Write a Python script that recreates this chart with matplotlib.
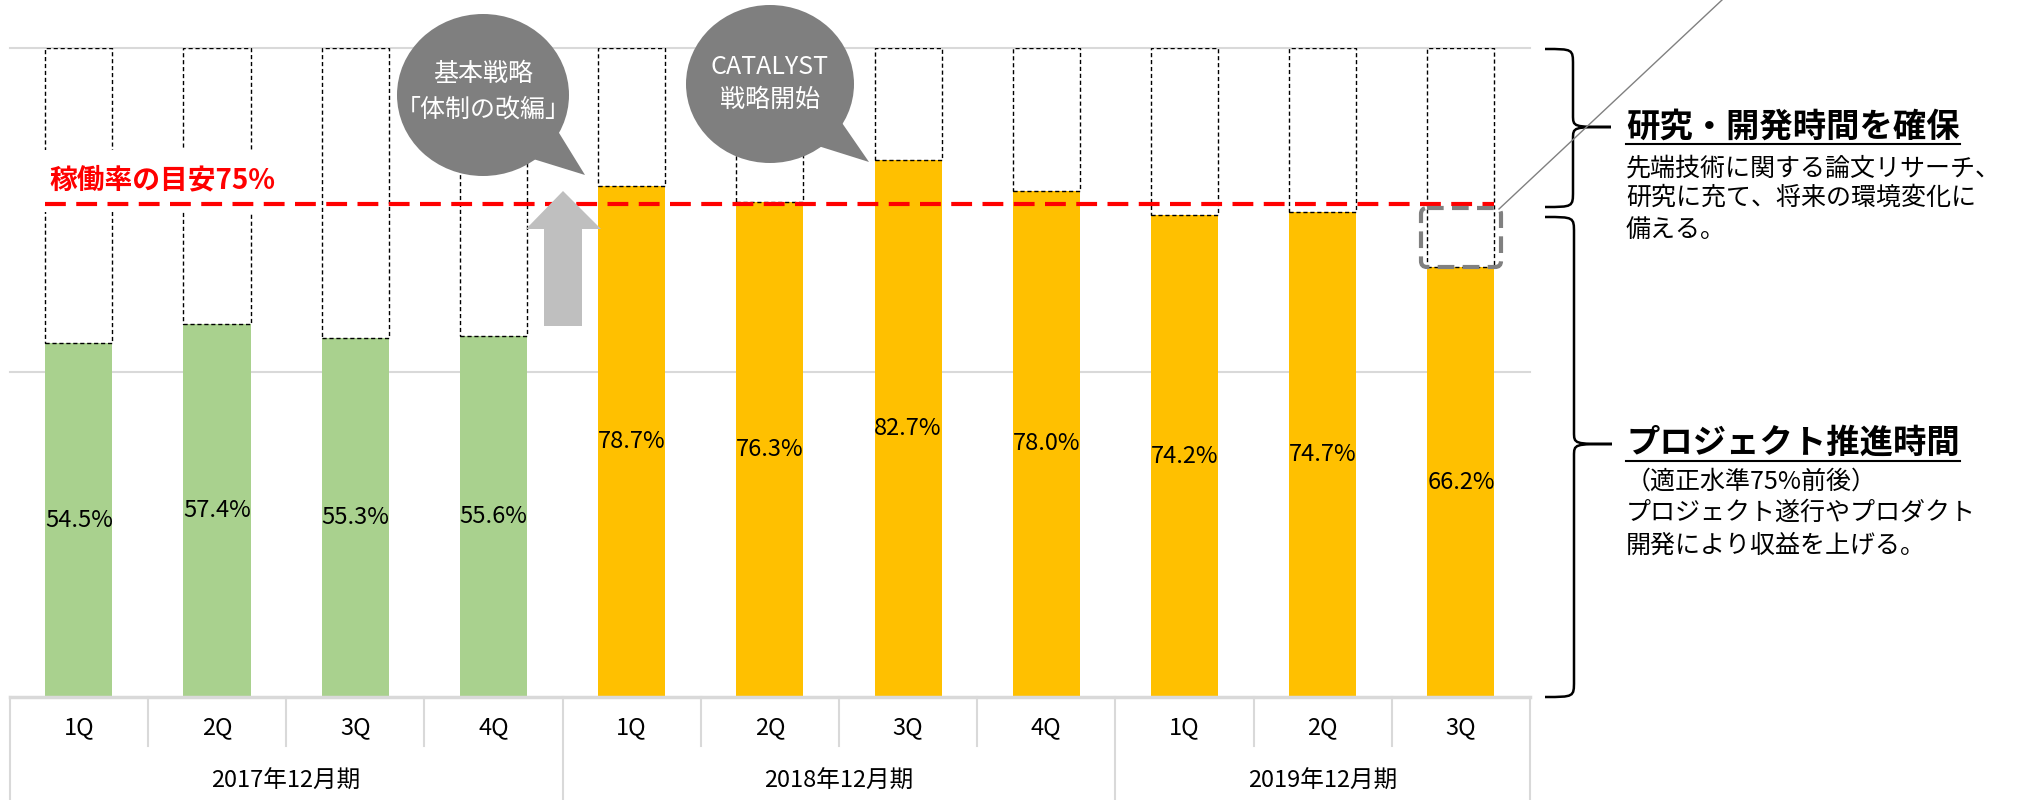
import numpy as np
import matplotlib
matplotlib.use('Agg')
import matplotlib.pyplot as plt
import matplotlib.transforms as mtransforms
from matplotlib.patches import Ellipse, Polygon, FancyBboxPatch, PathPatch
from matplotlib.path import Path

plt.rcParams['font.family'] = ['Noto Sans CJK JP', 'DejaVu Sans']

## data
Quarters = ['1Q', '2Q', '3Q', '4Q', '1Q', '2Q', '3Q', '4Q', '1Q', '2Q', '3Q']
Years = ['2017年12月期', '2018年12月期', '2019年12月期']
Year_sizes = [4, 4, 3]
Rates = [54.5, 57.4, 55.3, 55.6, 78.7, 76.3, 82.7, 78.0, 74.2, 74.7, 66.2]
Colors = ['#A9D18E'] * 4 + ['#FFC000'] * 7
target_line = 75.9  # the red line sits a hair above 75 in the original

W, H = 2024, 800
fig = plt.figure(figsize=(W / 100, H / 100), dpi=100)

ax_l, ax_r, ax_t, ax_b = 9.7, 1530, 47.8, 697
ax = fig.add_axes([ax_l / W, (H - ax_b) / H, (ax_r - ax_l) / W, (ax_b - ax_t) / H])

x = np.arange(len(Rates))
bw = 0.485
ax.bar(x, Rates, width=bw, color=Colors, zorder=2)
ax.bar(x, 100 - np.array(Rates), bottom=Rates, width=bw, fill=False,
       edgecolor='black', linestyle=(0, (3, 2)), lw=1, zorder=2)

for xi, r in zip(x, Rates):
    ax.text(xi, r / 2, f'{r:.1f}%', ha='center', va='center', fontsize=17, zorder=3)

# grid
for g in [50, 100]:
    ax.axhline(g, color='#D9D9D9', lw=1.5, zorder=1, clip_on=False)

ax.set_xlim(-0.5, len(Rates) - 0.5)
ax.set_ylim(0, 100)
for s in ['top', 'right', 'left']:
    ax.spines[s].set_visible(False)
ax.spines['bottom'].set_color('#D9D9D9')
ax.spines['bottom'].set_linewidth(2.5)
ax.set_xticks([])
ax.set_yticks([])

# 75% line + label
ax.hlines(target_line, -bw / 2, len(Rates) - 1 + bw / 2, colors='red', lw=3,
          linestyles=[(0, (5, 2.5))], zorder=4)
ax.text(-0.215, 79.5, '稼働率の目安75%', color='red', fontsize=20, fontweight='bold',
        ha='left', va='center', zorder=3,
        bbox=dict(facecolor='white', edgecolor='none', pad=12))

# category table under the axis
trans = mtransforms.blended_transform_factory(ax.transData, ax.transAxes)
ah = ax_b - ax_t
row1 = -(746 - ax_b) / ah
row2 = -(H - ax_b) / ah
year_edges = np.concatenate([[-0.5], np.cumsum(Year_sizes) - 0.5])
for k in range(len(Rates) + 1):
    xb = k - 0.5
    y_end = row2 if xb in year_edges else row1
    ax.plot([xb, xb], [0, y_end], color='#D9D9D9', lw=1.5, transform=trans, clip_on=False)
for xi, q in zip(x, Quarters):
    ax.text(xi, -(728 - ax_b) / ah, q, ha='center', va='center', fontsize=17, transform=trans)
for i, yl in enumerate(Years):
    xc = (year_edges[i] + year_edges[i + 1]) / 2
    ax.text(xc, -(781 - ax_b) / ah, yl, ha='center', va='center', fontsize=17, transform=trans)

## overlay in pixel coordinates for the annotations
ov = fig.add_axes([0, 0, 1, 1], zorder=5)
ov.set_xlim(0, W)
ov.set_ylim(H, 0)
ov.axis('off')

# up arrow
ov.add_patch(Polygon([(544, 326), (544, 229), (526, 229), (563, 191), (601, 229), (582, 229), (582, 326)],
                     closed=True, facecolor='#BFBFBF', edgecolor='none'))

# speech bubbles
bubble_gray = '#7F7F7F'
ov.add_patch(Ellipse((483, 95), 172, 162, facecolor=bubble_gray, edgecolor='none'))
ov.add_patch(Polygon([(556, 128), (585, 175), (530, 158)], facecolor=bubble_gray, edgecolor='none'))
ov.text(483, 74, '基本戦略', color='white', ha='center', va='center', fontsize=18)
ov.text(483, 110, '「体制の改編」', color='white', ha='center', va='center', fontsize=18)

ov.add_patch(Ellipse((770, 84), 168, 158, facecolor=bubble_gray, edgecolor='none'))
ov.add_patch(Polygon([(840, 120), (869, 162), (815, 145)], facecolor=bubble_gray, edgecolor='none'))
ov.text(770, 67, 'CATALYST', color='white', ha='center', va='center', fontsize=18)
ov.text(770, 100, '戦略開始', color='white', ha='center', va='center', fontsize=18)

# dashed gray box on the last bar + diagonal pointer
ov.add_patch(FancyBboxPatch((1421, 208), 80, 59, boxstyle='round,pad=0,rounding_size=6',
                            fill=False, edgecolor='#808080', lw=3, linestyle=(0, (4, 2))))
ov.plot([1499, 1722], [209, 0], color='#808080', lw=1)


def brace(a, x_left, x_mid, x_tip, y_top, y_mid, y_bot, r=16, rt=12):
    verts = [(x_left, y_top), (x_mid, y_top), (x_mid, y_top), (x_mid, y_top + r),
             (x_mid, y_mid - rt),
             (x_mid, y_mid), (x_mid, y_mid), (x_tip, y_mid),
             (x_mid, y_mid), (x_mid, y_mid), (x_mid, y_mid + rt),
             (x_mid, y_bot - r),
             (x_mid, y_bot), (x_mid, y_bot), (x_left, y_bot)]
    codes = [Path.MOVETO, Path.CURVE4, Path.CURVE4, Path.CURVE4,
             Path.LINETO,
             Path.CURVE4, Path.CURVE4, Path.CURVE4,
             Path.CURVE4, Path.CURVE4, Path.CURVE4,
             Path.LINETO,
             Path.CURVE4, Path.CURVE4, Path.CURVE4]
    a.add_patch(PathPatch(Path(verts, codes), fill=False, edgecolor='black', lw=1.8))


brace(ov, 1545, 1573, 1611, 49, 127, 207)
brace(ov, 1545, 1574, 1612, 217, 444, 697)

# right side texts
tx = 1626
h1 = ov.text(tx, 127, '研究・開発時間を確保', fontsize=24, fontweight='bold', ha='left', va='center')
for yy, line in zip([168, 198, 230], ['先端技術に関する論文リサーチ、', '研究に充て、将来の環境変化に', '備える。']):
    ov.text(tx, yy, line, fontsize=18, ha='left', va='center')

h2 = ov.text(tx, 443, 'プロジェクト推進時間', fontsize=24, fontweight='bold', ha='left', va='center')
for yy, line in zip([482, 513, 546], ['（適正水準75%前後）', 'プロジェクト遂行やプロダクト', '開発により収益を上げる。']):
    ov.text(tx, yy, line, fontsize=18, ha='left', va='center')

# underline the two headings
fig.canvas.draw()
for t, yu in [(h1, 144), (h2, 461)]:
    bb = t.get_window_extent()
    ov.plot([bb.x0, bb.x1], [yu, yu], color='black', lw=1.5)

fig.savefig('out.png', dpi=100, facecolor='white')
